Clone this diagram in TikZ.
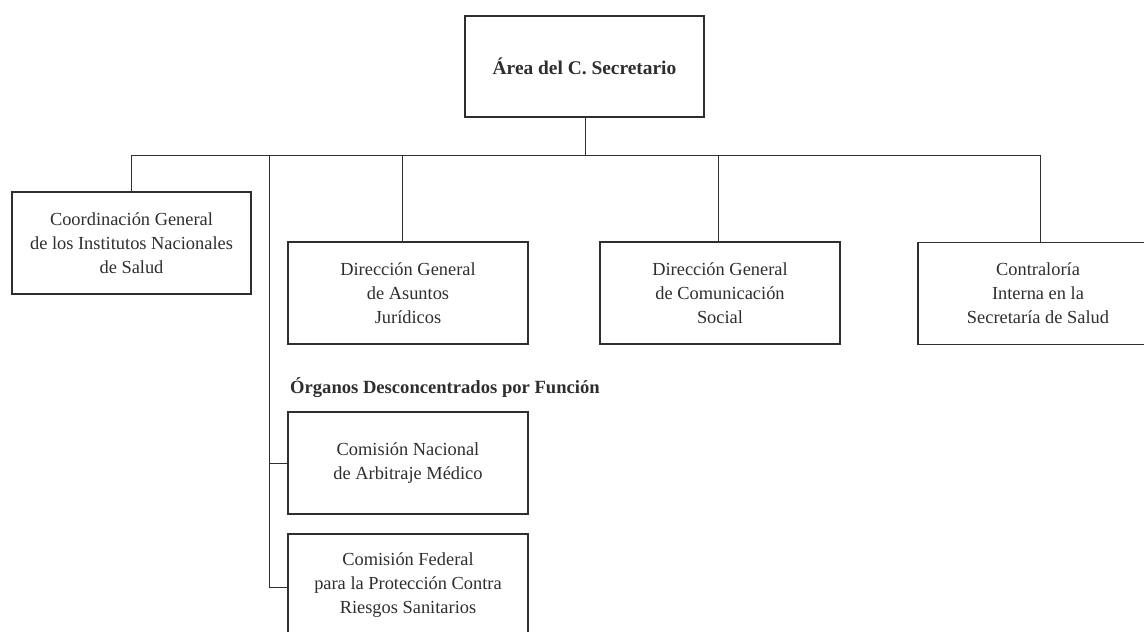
\documentclass[tikz,border=0pt]{standalone}
\usepackage{fontspec}
\setmainfont{Liberation Serif}
\definecolor{ink}{HTML}{2E2E2E}
\begin{document}
\begin{tikzpicture}[x=1pt,y=-1pt,
  box/.style={draw=ink, line width=1.3pt, minimum width=240pt, minimum height=102pt,
    inner sep=0pt, align=center, text=ink,
    font=\fontsize{18.4}{24}\selectfont},
  conn/.style={draw=ink, line width=1pt},
  heading/.style={text=ink, font=\fontsize{18.6}{24}\selectfont\bfseries, inner sep=0pt, anchor=west}]
\useasboundingbox (0,0) rectangle (1144,632);
\begin{scope}
\clip (0,0) rectangle (1144,632);
\node[box, minimum width=239pt, minimum height=101pt, font=\fontsize{19.4}{24}\selectfont\bfseries] (top) at (584.5,66.5) {Área del C. Secretario};
\node[box, minimum width=239pt] (coord) at (131.5,243) {Coordinación General\\de los Institutos Nacionales\\de Salud};
\node[box] (asuntos) at (408,293) {Dirección General\\de Asuntos\\Jurídicos};
\node[box] (comun) at (720,293) {Dirección General\\de Comunicación\\Social};
\node[box] (contra) at (1038,293.5) {Contraloría\\Interna en la\\Secretaría de Salud};
\node[heading] (org) at (290,388) {Órganos Desconcentrados por Función};
\node[box] (conamed) at (408,463) {Comisión Nacional\\de Arbitraje Médico};
\node[box] (cofepris) at (408,585) {Comisión Federal\\para la Protección Contra\\Riesgos Sanitarios};

\coordinate (hub) at (585,155);
\coordinate (busL) at (131.5,155);
\coordinate (busR) at (1040,155);
\coordinate (spine) at (269,155);
\draw[conn] (top.south -| hub) -- (hub);
\draw[conn] (busL) -- (busR);
\draw[conn] (busL) -- (coord.north -| busL);
\draw[conn] (402,155) -- (asuntos.north -| 402,0);
\draw[conn] (718,155) -- (comun.north -| 718,0);
\draw[conn] (busR) -- (contra.north -| busR);
\draw[conn] (spine) -- (spine |- 0,587) -- (cofepris.west |- 0,587);
\draw[conn] (spine |- conamed.west) -- (conamed.west);
\end{scope}
\end{tikzpicture}
\end{document}
